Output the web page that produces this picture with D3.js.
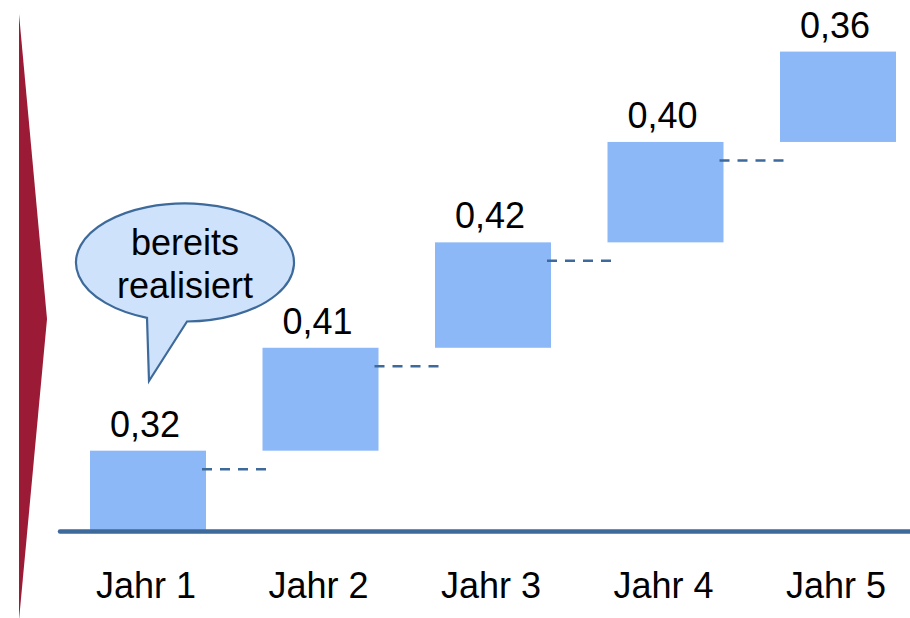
<!DOCTYPE html>
<html>
<head>
<meta charset="utf-8">
<script src="https://cdn.jsdelivr.net/npm/d3@7"></script>
<style>
  html, body { margin: 0; padding: 0; background: #fff; }
  svg { display: block; font-family: Arial, "Liberation Sans", sans-serif; }
</style>
</head>
<body>
<svg id="chart" width="910" height="618"></svg>
<script>
const categories = ["Jahr 1", "Jahr 2", "Jahr 3", "Jahr 4", "Jahr 5"];
const values = [0.32, 0.41, 0.42, 0.40, 0.36];
const valueLabels = ["0,32", "0,41", "0,42", "0,40", "0,36"];
const calloutLines = ["bereits", "realisiert"];

const svg = d3.select("#chart");

// waterfall cumulative
let acc = 0;
const data = categories.map((c, i) => {
  const start = acc;
  acc += values[i];
  return { cat: c, v: values[i], start, end: acc, label: valueLabels[i] };
});

const x = d3.scalePoint().domain(categories).range([148, 838]);
const bw = 116;
const y = d3.scaleLinear().domain([0, d3.sum(values)]).range([531, 531 - 251 * d3.sum(values)]);

// red arrow on the left
svg.append("path")
  .attr("d", "M19,14 L47,319 L19,620 Z")
  .attr("fill", "#9b1a35");

// bars
svg.selectAll("rect.bar").data(data).join("rect")
  .attr("class", "bar")
  .attr("x", d => x(d.cat) - bw / 2)
  .attr("width", bw)
  .attr("y", d => y(d.end))
  .attr("height", d => y(d.start) - y(d.end))
  .attr("fill", "#8cb8f8");

// dashed connectors
svg.selectAll("line.conn").data(data.slice(0, -1)).join("line")
  .attr("class", "conn")
  .attr("x1", d => x(d.cat) + bw / 2 - 4)
  .attr("x2", (d, i) => x(categories[i + 1]) - bw / 2 + 4)
  .attr("y1", d => y(d.end) + 18.5)
  .attr("y2", d => y(d.end) + 18.5)
  .attr("stroke", "#3d6a9a")
  .attr("stroke-width", 2.5)
  .attr("stroke-dasharray", "10,8");

// baseline
svg.append("line")
  .attr("x1", 60).attr("x2", 912)
  .attr("y1", y(0) + 0.5).attr("y2", y(0) + 0.5)
  .attr("stroke", "#3d6a9a")
  .attr("stroke-width", 4.5)
  .attr("stroke-linecap", "round");

// value labels
svg.selectAll("text.val").data(data).join("text")
  .attr("class", "val")
  .attr("x", d => x(d.cat) - 3)
  .attr("y", d => y(d.end) - 14)
  .attr("text-anchor", "middle")
  .attr("font-size", 36)
  .attr("fill", "#000")
  .text(d => d.label);

// category labels
svg.selectAll("text.cat").data(categories).join("text")
  .attr("class", "cat")
  .attr("x", d => x(d) - 2)
  .attr("y", 598)
  .attr("text-anchor", "middle")
  .attr("font-size", 36)
  .attr("fill", "#000")
  .text(d => d);

// speech bubble callout
const cx = 185, cy = 262.5, rx = 109, ry = 59;
function ellPt(px) {
  const t = (px - cx) / rx;
  return cy + ry * Math.sqrt(1 - t * t);
}
const bx1 = 147, bx2 = 187, tip = [149, 381];
const ang1 = Math.atan2((ellPt(bx1) - cy) / ry, (bx1 - cx) / rx);
const ang2 = Math.atan2((ellPt(bx2) - cy) / ry, (bx2 - cx) / rx);
const p1 = [cx + rx * Math.cos(ang1), cy + ry * Math.sin(ang1)];
const p2 = [cx + rx * Math.cos(ang2), cy + ry * Math.sin(ang2)];
const bubblePath = `M${p2[0]},${p2[1]} A${rx},${ry} 0 1 0 ${p1[0]},${p1[1]} L${tip[0]},${tip[1]} Z`;
svg.append("path")
  .attr("d", bubblePath)
  .attr("fill", "#cfe2fb")
  .attr("stroke", "#3d6a9a")
  .attr("stroke-width", 2.2)
  .attr("stroke-linejoin", "miter");

svg.selectAll("text.callout").data(calloutLines).join("text")
  .attr("class", "callout")
  .attr("x", 185)
  .attr("y", (d, i) => 255 + i * 43)
  .attr("text-anchor", "middle")
  .attr("font-size", 36)
  .attr("fill", "#000")
  .text(d => d);
</script>
</body>
</html>
